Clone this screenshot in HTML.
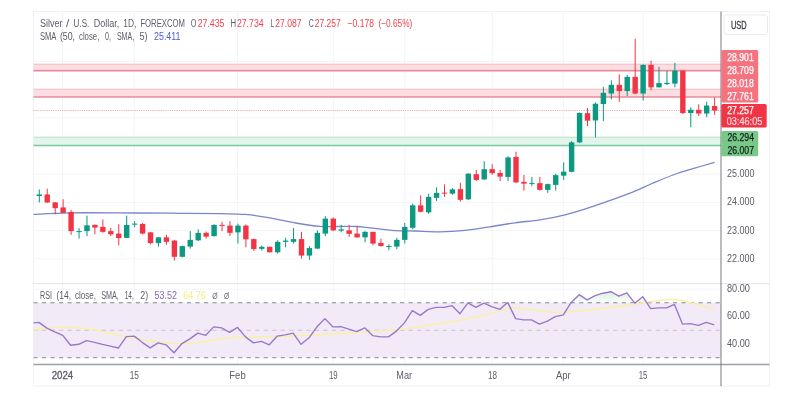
<!DOCTYPE html>
<html><head><meta charset="utf-8"><title>Silver / U.S. Dollar</title>
<style>
html,body{margin:0;padding:0;background:#fff;}
body{width:804px;height:413px;position:relative;overflow:hidden;font-family:"Liberation Sans",sans-serif;}
</style></head><body>
<svg width="804" height="413" viewBox="0 0 804 413" style="position:absolute;left:0;top:0">
<defs><linearGradient id="gg" x1="0" y1="289" x2="0" y2="303" gradientUnits="userSpaceOnUse"><stop offset="0" stop-color="#4caf50" stop-opacity="0.24"/><stop offset="1" stop-color="#4caf50" stop-opacity="0.02"/></linearGradient>
<filter id="bl" x="-5%" y="-5%" width="110%" height="110%"><feGaussianBlur stdDeviation="0.45"/></filter></defs>
<rect x="33.5" y="11.6" width="736.0" height="374.5" fill="#fff" stroke="#eff0f5" stroke-width="1"/>
<g filter="url(#bl)">
<line x1="62.5" y1="11.6" x2="62.5" y2="365" stroke="#f3f4f8" stroke-width="1"/><line x1="134.3" y1="11.6" x2="134.3" y2="365" stroke="#f3f4f8" stroke-width="1"/><line x1="237.5" y1="11.6" x2="237.5" y2="365" stroke="#f3f4f8" stroke-width="1"/><line x1="333.3" y1="11.6" x2="333.3" y2="365" stroke="#f3f4f8" stroke-width="1"/><line x1="404.7" y1="11.6" x2="404.7" y2="365" stroke="#f3f4f8" stroke-width="1"/><line x1="492.3" y1="11.6" x2="492.3" y2="365" stroke="#f3f4f8" stroke-width="1"/><line x1="563.3" y1="11.6" x2="563.3" y2="365" stroke="#f3f4f8" stroke-width="1"/><line x1="643.3" y1="11.6" x2="643.3" y2="365" stroke="#f3f4f8" stroke-width="1"/><line x1="33.5" y1="61.4" x2="721" y2="61.4" stroke="#f3f4f8" stroke-width="1"/><line x1="33.5" y1="89.6" x2="721" y2="89.6" stroke="#f3f4f8" stroke-width="1"/><line x1="33.5" y1="117.8" x2="721" y2="117.8" stroke="#f3f4f8" stroke-width="1"/><line x1="33.5" y1="146.0" x2="721" y2="146.0" stroke="#f3f4f8" stroke-width="1"/><line x1="33.5" y1="174.2" x2="721" y2="174.2" stroke="#f3f4f8" stroke-width="1"/><line x1="33.5" y1="202.4" x2="721" y2="202.4" stroke="#f3f4f8" stroke-width="1"/><line x1="33.5" y1="230.6" x2="721" y2="230.6" stroke="#f3f4f8" stroke-width="1"/><line x1="33.5" y1="258.8" x2="721" y2="258.8" stroke="#f3f4f8" stroke-width="1"/><line x1="33.5" y1="289.2" x2="721" y2="289.2" stroke="#f3f4f8" stroke-width="1"/><line x1="33.5" y1="316.1" x2="721" y2="316.1" stroke="#f3f4f8" stroke-width="1"/><line x1="33.5" y1="343.6" x2="721" y2="343.6" stroke="#f3f4f8" stroke-width="1"/>
<!-- bands -->
<rect x="33.5" y="64.2" width="687.5" height="5.4" fill="#fcdde2"/>
<line x1="33.5" x2="721" y1="64.2" y2="64.2" stroke="#f3bcc4" stroke-width="1"/>
<line x1="33.5" x2="721" y1="70.6" y2="70.6" stroke="#ea8a98" stroke-width="1.7"/>
<rect x="33.5" y="89.2" width="687.5" height="7.6" fill="#fcdde2"/>
<line x1="33.5" x2="721" y1="89.2" y2="89.2" stroke="#f3bcc4" stroke-width="1"/>
<line x1="33.5" x2="721" y1="97" y2="97" stroke="#ea8a98" stroke-width="1.7"/>
<rect x="33.5" y="137.2" width="687.5" height="8.2" fill="#e3f5ea"/>
<line x1="33.5" x2="721" y1="137.2" y2="137.2" stroke="#b5e3c8" stroke-width="1"/>
<line x1="33.5" x2="721" y1="145.5" y2="145.5" stroke="#79cc9d" stroke-width="1.7"/>
<line x1="33.5" x2="721" y1="110.5" y2="110.5" stroke="#d9636f" stroke-width="1" stroke-dasharray="1 1.2" stroke-opacity="0.6"/>
<!-- rsi -->
<rect x="33.5" y="302.8" width="687.5" height="54.8" fill="#f3eaf8"/>
<line x1="33.5" x2="721" y1="302.8" y2="302.8" stroke="#85888f" stroke-width="1.1" stroke-dasharray="4.2 4.327" stroke-dashoffset="0.1"/>
<line x1="33.5" x2="721" y1="330.2" y2="330.2" stroke="#85888f" stroke-opacity="0.4" stroke-width="1.1" stroke-dasharray="4.2 4.327" stroke-dashoffset="0.1"/>
<line x1="33.5" x2="721" y1="357.6" y2="357.6" stroke="#9c9fa6" stroke-width="1.1" stroke-dasharray="4.2 4.327" stroke-dashoffset="0.1"/>
<path d="M507.22,302.80 L507.66,302.42 L507.84,302.80 Z" fill="url(#gg)"/><path d="M570.97,302.80 L571.22,302.42 L579.16,294.69 L587.11,299.93 L595.05,295.69 L603.00,293.19 L610.94,291.70 L618.88,296.18 L626.83,292.94 L634.49,302.80 Z" fill="url(#gg)"/><path d="M635.22,302.80 L642.72,296.68 L646.78,302.80 Z" fill="url(#gg)"/>
<path d="M33.50,329.90 C39.13,329.40 56.22,326.72 67.30,326.90 C78.38,327.08 90.43,329.35 100.00,331.00 C109.57,332.65 112.70,334.70 124.70,336.80 C136.70,338.90 159.53,342.68 172.00,343.60 C184.47,344.52 192.33,342.93 199.50,342.30 C206.67,341.67 208.68,340.63 215.00,339.80 C221.32,338.97 229.10,337.80 237.40,337.30 C245.70,336.80 256.07,337.00 264.80,336.80 C273.53,336.60 281.48,336.43 289.80,336.10 C298.12,335.77 306.40,335.22 314.70,334.80 C323.00,334.38 331.28,334.10 339.60,333.60 C347.92,333.10 356.28,332.30 364.60,331.80 C372.92,331.30 382.77,331.05 389.50,330.60 C396.23,330.15 398.27,330.05 405.00,329.10 C411.73,328.15 421.60,326.23 429.90,324.90 C438.20,323.57 446.48,322.57 454.80,321.10 C463.12,319.63 472.32,317.77 479.80,316.10 C487.28,314.43 494.30,312.47 499.70,311.10 C505.10,309.73 507.22,308.18 512.20,307.90 C517.18,307.62 522.53,308.65 529.60,309.40 C536.67,310.15 546.28,312.20 554.60,312.40 C562.92,312.60 572.77,311.10 579.50,310.60 C586.23,310.10 588.27,310.13 595.00,309.40 C601.73,308.67 611.60,307.37 619.90,306.20 C628.20,305.03 638.15,303.37 644.80,302.40 C651.45,301.43 654.82,300.90 659.80,300.40 C664.78,299.90 669.72,299.07 674.70,299.40 C679.68,299.73 684.70,301.27 689.70,302.40 C694.70,303.53 700.67,305.03 704.70,306.20 C708.73,307.37 712.37,308.87 713.90,309.40" fill="none" stroke="#f8f0a6" stroke-width="1.5" stroke-linejoin="round"/>
<path d="M33.50,322.87 L38.90,322.37 L46.84,328.10 L54.79,331.85 L62.73,335.34 L70.68,345.31 L78.62,344.31 L86.57,340.57 L94.51,342.32 L102.46,344.31 L110.40,346.06 L118.35,348.05 L126.30,336.58 L134.24,336.08 L142.18,342.32 L150.13,347.81 L158.08,342.82 L166.02,344.81 L173.97,352.79 L181.91,343.57 L189.85,338.83 L197.80,333.09 L205.74,335.34 L213.69,326.86 L221.64,327.86 L229.58,332.34 L237.53,327.36 L245.47,336.83 L253.41,342.82 L261.36,341.32 L269.31,344.81 L277.25,336.08 L285.20,334.84 L293.14,333.09 L301.09,344.31 L309.03,337.83 L316.98,326.86 L324.92,318.63 L332.87,326.86 L340.81,326.61 L348.76,329.10 L356.70,331.60 L364.65,327.86 L372.59,335.59 L380.54,336.83 L388.48,336.83 L396.43,331.10 L404.37,322.87 L412.32,310.65 L420.26,315.39 L428.21,309.40 L436.15,307.41 L444.10,307.41 L452.04,305.66 L459.99,313.64 L467.93,302.92 L475.88,307.41 L483.82,303.17 L491.77,306.66 L499.71,309.40 L507.66,302.42 L515.60,318.63 L523.55,319.88 L531.49,319.88 L539.44,324.11 L547.38,321.12 L555.33,316.63 L563.27,314.89 L571.22,302.42 L579.16,294.69 L587.11,299.93 L595.05,295.69 L603.00,293.19 L610.94,291.70 L618.88,296.18 L626.83,292.94 L634.77,303.17 L642.72,296.68 L650.66,308.65 L658.61,307.91 L666.55,307.91 L674.50,304.41 L682.45,324.11 L690.39,323.62 L698.34,325.36 L706.28,322.37 L714.23,324.86" fill="none" stroke="#9878cc" stroke-width="1.4" stroke-linejoin="round"/>
<path d="M33.50,214.40 C39.58,214.13 53.08,213.03 70.00,212.80 C86.92,212.57 116.67,212.92 135.00,213.00 C153.33,213.08 165.83,213.18 180.00,213.30 C194.17,213.42 209.17,213.52 220.00,213.70 C230.83,213.88 236.67,213.70 245.00,214.40 C253.33,215.10 261.67,216.48 270.00,217.90 C278.33,219.32 286.67,221.50 295.00,222.90 C303.33,224.30 311.67,225.72 320.00,226.30 C328.33,226.88 338.83,226.37 345.00,226.40 C351.17,226.43 352.83,226.25 357.00,226.50 C361.17,226.75 363.67,227.22 370.00,227.90 C376.33,228.58 387.50,230.08 395.00,230.60 C402.50,231.12 407.50,230.80 415.00,231.00 C422.50,231.20 431.67,231.92 440.00,231.80 C448.33,231.68 456.67,231.13 465.00,230.30 C473.33,229.47 481.67,228.05 490.00,226.80 C498.33,225.55 506.67,223.97 515.00,222.80 C523.33,221.63 531.67,221.13 540.00,219.80 C548.33,218.47 556.67,216.88 565.00,214.80 C573.33,212.72 578.83,211.05 590.00,207.30 C601.17,203.55 621.67,196.27 632.00,192.30 C642.33,188.33 644.50,186.63 652.00,183.50 C659.50,180.37 668.67,176.42 677.00,173.50 C685.33,170.58 695.75,167.87 702.00,166.00 C708.25,164.13 712.42,162.92 714.50,162.30" fill="none" stroke="#7986cb" stroke-width="1.3" stroke-linejoin="round"/>
<rect x="38.80" y="189.46" width="1" height="12.97" fill="#089981"/><rect x="36.60" y="194.45" width="5.4" height="1.50" fill="#089981"/><rect x="46.74" y="188.72" width="1" height="14.21" fill="#f23645"/><rect x="44.54" y="194.45" width="5.4" height="7.98" fill="#f23645"/><rect x="54.69" y="201.93" width="1" height="12.47" fill="#f23645"/><rect x="52.49" y="202.43" width="5.4" height="5.74" fill="#f23645"/><rect x="62.63" y="199.19" width="1" height="13.72" fill="#f23645"/><rect x="60.43" y="207.42" width="5.4" height="5.49" fill="#f23645"/><rect x="70.58" y="209.91" width="1" height="24.94" fill="#f23645"/><rect x="68.38" y="211.91" width="5.4" height="19.20" fill="#f23645"/><rect x="78.53" y="228.12" width="1" height="10.47" fill="#089981"/><rect x="76.33" y="231.11" width="5.4" height="1.00" fill="#089981"/><rect x="86.47" y="215.65" width="1" height="20.45" fill="#089981"/><rect x="84.27" y="225.37" width="5.4" height="5.74" fill="#089981"/><rect x="94.41" y="224.38" width="1" height="9.98" fill="#f23645"/><rect x="92.21" y="224.88" width="5.4" height="2.74" fill="#f23645"/><rect x="102.36" y="219.39" width="1" height="13.47" fill="#f23645"/><rect x="100.16" y="226.87" width="5.4" height="4.99" fill="#f23645"/><rect x="110.30" y="227.87" width="1" height="8.23" fill="#f23645"/><rect x="108.10" y="231.11" width="5.4" height="3.24" fill="#f23645"/><rect x="118.25" y="224.13" width="1" height="21.20" fill="#f23645"/><rect x="116.05" y="233.60" width="5.4" height="4.49" fill="#f23645"/><rect x="126.20" y="215.65" width="1" height="22.19" fill="#089981"/><rect x="124.00" y="224.88" width="5.4" height="12.97" fill="#089981"/><rect x="134.14" y="221.13" width="1" height="6.23" fill="#089981"/><rect x="131.94" y="223.63" width="5.4" height="1.00" fill="#089981"/><rect x="142.08" y="223.13" width="1" height="11.22" fill="#f23645"/><rect x="139.88" y="223.88" width="5.4" height="9.73" fill="#f23645"/><rect x="150.03" y="231.86" width="1" height="12.47" fill="#f23645"/><rect x="147.83" y="232.36" width="5.4" height="10.72" fill="#f23645"/><rect x="157.98" y="237.34" width="1" height="9.23" fill="#089981"/><rect x="155.78" y="237.34" width="5.4" height="5.74" fill="#089981"/><rect x="165.92" y="234.85" width="1" height="9.98" fill="#f23645"/><rect x="163.72" y="237.34" width="5.4" height="4.49" fill="#f23645"/><rect x="173.87" y="239.84" width="1" height="20.70" fill="#f23645"/><rect x="171.67" y="240.59" width="5.4" height="16.21" fill="#f23645"/><rect x="181.81" y="245.57" width="1" height="11.72" fill="#089981"/><rect x="179.61" y="246.07" width="5.4" height="10.72" fill="#089981"/><rect x="189.75" y="231.11" width="1" height="17.46" fill="#089981"/><rect x="187.56" y="239.84" width="5.4" height="6.73" fill="#089981"/><rect x="197.70" y="229.36" width="1" height="11.72" fill="#089981"/><rect x="195.50" y="232.86" width="5.4" height="7.48" fill="#089981"/><rect x="205.64" y="231.61" width="1" height="6.98" fill="#f23645"/><rect x="203.44" y="232.86" width="5.4" height="3.74" fill="#f23645"/><rect x="213.59" y="224.38" width="1" height="12.22" fill="#089981"/><rect x="211.39" y="224.88" width="5.4" height="11.22" fill="#089981"/><rect x="221.54" y="221.88" width="1" height="9.23" fill="#f23645"/><rect x="219.34" y="224.88" width="5.4" height="1.00" fill="#f23645"/><rect x="229.48" y="221.13" width="1" height="14.96" fill="#f23645"/><rect x="227.28" y="225.62" width="5.4" height="7.23" fill="#f23645"/><rect x="237.43" y="223.63" width="1" height="19.95" fill="#089981"/><rect x="235.23" y="225.62" width="5.4" height="6.73" fill="#089981"/><rect x="245.37" y="224.38" width="1" height="22.94" fill="#f23645"/><rect x="243.17" y="225.62" width="5.4" height="13.72" fill="#f23645"/><rect x="253.31" y="238.59" width="1" height="12.47" fill="#f23645"/><rect x="251.12" y="239.09" width="5.4" height="9.98" fill="#f23645"/><rect x="261.26" y="245.57" width="1" height="4.99" fill="#089981"/><rect x="259.06" y="246.82" width="5.4" height="2.00" fill="#089981"/><rect x="269.20" y="246.82" width="1" height="5.49" fill="#f23645"/><rect x="267.00" y="246.82" width="5.4" height="5.49" fill="#f23645"/><rect x="277.15" y="240.34" width="1" height="13.22" fill="#089981"/><rect x="274.95" y="241.83" width="5.4" height="10.47" fill="#089981"/><rect x="285.10" y="237.84" width="1" height="9.48" fill="#089981"/><rect x="282.90" y="240.59" width="5.4" height="1.25" fill="#089981"/><rect x="293.04" y="228.12" width="1" height="15.46" fill="#089981"/><rect x="290.84" y="239.09" width="5.4" height="2.74" fill="#089981"/><rect x="300.99" y="231.86" width="1" height="26.68" fill="#f23645"/><rect x="298.79" y="239.09" width="5.4" height="16.46" fill="#f23645"/><rect x="308.93" y="246.07" width="1" height="13.72" fill="#089981"/><rect x="306.73" y="248.07" width="5.4" height="7.48" fill="#089981"/><rect x="316.88" y="230.36" width="1" height="18.70" fill="#089981"/><rect x="314.68" y="232.86" width="5.4" height="15.71" fill="#089981"/><rect x="324.82" y="216.15" width="1" height="19.95" fill="#089981"/><rect x="322.62" y="218.64" width="5.4" height="14.96" fill="#089981"/><rect x="332.77" y="217.39" width="1" height="13.72" fill="#f23645"/><rect x="330.57" y="218.64" width="5.4" height="11.72" fill="#f23645"/><rect x="340.71" y="224.88" width="1" height="7.48" fill="#089981"/><rect x="338.51" y="229.36" width="5.4" height="1.25" fill="#089981"/><rect x="348.66" y="224.88" width="1" height="11.97" fill="#f23645"/><rect x="346.46" y="230.36" width="5.4" height="3.49" fill="#f23645"/><rect x="356.60" y="226.12" width="1" height="11.72" fill="#f23645"/><rect x="354.40" y="233.60" width="5.4" height="3.74" fill="#f23645"/><rect x="364.55" y="231.11" width="1" height="11.22" fill="#089981"/><rect x="362.35" y="231.86" width="5.4" height="5.49" fill="#089981"/><rect x="372.49" y="231.86" width="1" height="13.47" fill="#f23645"/><rect x="370.29" y="231.86" width="5.4" height="11.72" fill="#f23645"/><rect x="380.44" y="238.59" width="1" height="7.98" fill="#f23645"/><rect x="378.24" y="242.83" width="5.4" height="3.24" fill="#f23645"/><rect x="388.38" y="244.33" width="1" height="5.99" fill="#089981"/><rect x="386.18" y="246.07" width="5.4" height="1.00" fill="#089981"/><rect x="396.33" y="237.84" width="1" height="11.47" fill="#089981"/><rect x="394.13" y="239.84" width="5.4" height="6.73" fill="#089981"/><rect x="404.27" y="222.88" width="1" height="20.70" fill="#089981"/><rect x="402.07" y="226.87" width="5.4" height="12.97" fill="#089981"/><rect x="412.22" y="203.59" width="1" height="25.69" fill="#089981"/><rect x="410.02" y="205.34" width="5.4" height="22.44" fill="#089981"/><rect x="420.16" y="195.36" width="1" height="16.96" fill="#f23645"/><rect x="417.96" y="205.34" width="5.4" height="6.48" fill="#f23645"/><rect x="428.11" y="193.62" width="1" height="20.45" fill="#089981"/><rect x="425.91" y="196.86" width="5.4" height="15.46" fill="#089981"/><rect x="436.05" y="187.38" width="1" height="13.72" fill="#089981"/><rect x="433.85" y="192.87" width="5.4" height="4.99" fill="#089981"/><rect x="444.00" y="184.39" width="1" height="12.47" fill="#f23645"/><rect x="441.80" y="192.62" width="5.4" height="1.00" fill="#f23645"/><rect x="451.94" y="188.13" width="1" height="6.73" fill="#089981"/><rect x="449.74" y="189.38" width="5.4" height="4.24" fill="#089981"/><rect x="459.89" y="182.89" width="1" height="18.70" fill="#f23645"/><rect x="457.69" y="189.13" width="5.4" height="10.72" fill="#f23645"/><rect x="467.83" y="173.17" width="1" height="26.68" fill="#089981"/><rect x="465.63" y="173.67" width="5.4" height="25.69" fill="#089981"/><rect x="475.78" y="169.93" width="1" height="11.22" fill="#f23645"/><rect x="473.58" y="174.16" width="5.4" height="5.74" fill="#f23645"/><rect x="483.72" y="161.20" width="1" height="18.70" fill="#089981"/><rect x="481.52" y="169.18" width="5.4" height="10.22" fill="#089981"/><rect x="491.67" y="164.19" width="1" height="10.72" fill="#f23645"/><rect x="489.47" y="169.18" width="5.4" height="3.99" fill="#f23645"/><rect x="499.61" y="169.93" width="1" height="11.22" fill="#f23645"/><rect x="497.41" y="172.92" width="5.4" height="3.74" fill="#f23645"/><rect x="507.56" y="156.21" width="1" height="24.94" fill="#089981"/><rect x="505.36" y="157.46" width="5.4" height="19.45" fill="#089981"/><rect x="515.50" y="151.72" width="1" height="31.17" fill="#f23645"/><rect x="513.30" y="156.96" width="5.4" height="25.44" fill="#f23645"/><rect x="523.45" y="174.91" width="1" height="15.71" fill="#f23645"/><rect x="521.25" y="181.90" width="5.4" height="1.75" fill="#f23645"/><rect x="531.39" y="176.91" width="1" height="9.23" fill="#089981"/><rect x="529.19" y="182.89" width="5.4" height="1.00" fill="#089981"/><rect x="539.34" y="176.91" width="1" height="13.72" fill="#f23645"/><rect x="537.13" y="183.14" width="5.4" height="6.73" fill="#f23645"/><rect x="547.28" y="183.64" width="1" height="9.23" fill="#089981"/><rect x="545.08" y="184.14" width="5.4" height="5.74" fill="#089981"/><rect x="555.23" y="173.67" width="1" height="16.96" fill="#089981"/><rect x="553.02" y="175.16" width="5.4" height="9.73" fill="#089981"/><rect x="563.17" y="162.44" width="1" height="17.46" fill="#089981"/><rect x="560.97" y="171.67" width="5.4" height="3.99" fill="#089981"/><rect x="571.12" y="141.12" width="1" height="31.17" fill="#089981"/><rect x="568.91" y="142.37" width="5.4" height="29.43" fill="#089981"/><rect x="579.06" y="112.44" width="1" height="30.42" fill="#089981"/><rect x="576.86" y="112.94" width="5.4" height="29.43" fill="#089981"/><rect x="587.00" y="107.96" width="1" height="18.20" fill="#f23645"/><rect x="584.80" y="113.19" width="5.4" height="7.48" fill="#f23645"/><rect x="594.95" y="102.47" width="1" height="34.91" fill="#089981"/><rect x="592.75" y="103.72" width="5.4" height="16.71" fill="#089981"/><rect x="602.89" y="86.85" width="1" height="34.16" fill="#089981"/><rect x="600.69" y="92.83" width="5.4" height="11.22" fill="#089981"/><rect x="610.84" y="80.36" width="1" height="18.95" fill="#089981"/><rect x="608.64" y="84.85" width="5.4" height="8.73" fill="#089981"/><rect x="618.78" y="74.38" width="1" height="27.43" fill="#f23645"/><rect x="616.58" y="84.85" width="5.4" height="6.23" fill="#f23645"/><rect x="626.73" y="74.88" width="1" height="21.20" fill="#089981"/><rect x="624.53" y="76.87" width="5.4" height="14.21" fill="#089981"/><rect x="634.67" y="38.72" width="1" height="55.61" fill="#f23645"/><rect x="632.47" y="76.87" width="5.4" height="16.71" fill="#f23645"/><rect x="642.62" y="64.40" width="1" height="36.16" fill="#089981"/><rect x="640.42" y="64.90" width="5.4" height="28.68" fill="#089981"/><rect x="650.56" y="60.66" width="1" height="29.68" fill="#f23645"/><rect x="648.36" y="64.90" width="5.4" height="22.44" fill="#f23645"/><rect x="658.51" y="66.90" width="1" height="20.45" fill="#089981"/><rect x="656.31" y="83.10" width="5.4" height="4.24" fill="#089981"/><rect x="666.45" y="70.64" width="1" height="14.21" fill="#089981"/><rect x="664.25" y="82.86" width="5.4" height="1.25" fill="#089981"/><rect x="674.40" y="62.91" width="1" height="24.44" fill="#089981"/><rect x="672.20" y="70.64" width="5.4" height="12.97" fill="#089981"/><rect x="682.35" y="70.64" width="1" height="43.39" fill="#f23645"/><rect x="680.14" y="70.64" width="5.4" height="42.39" fill="#f23645"/><rect x="690.29" y="107.29" width="1" height="19.95" fill="#089981"/><rect x="688.09" y="109.79" width="5.4" height="3.24" fill="#089981"/><rect x="698.24" y="104.30" width="1" height="11.72" fill="#f23645"/><rect x="696.03" y="109.79" width="5.4" height="3.74" fill="#f23645"/><rect x="706.18" y="101.81" width="1" height="15.46" fill="#089981"/><rect x="703.98" y="105.55" width="5.4" height="7.98" fill="#089981"/><rect x="714.12" y="97.32" width="1" height="17.46" fill="#f23645"/><rect x="711.92" y="106.05" width="5.4" height="4.49" fill="#f23645"/>
<!-- separators -->
<line x1="33.5" x2="769.5" y1="283.7" y2="283.7" stroke="#e0e3eb" stroke-width="1"/>
<line x1="33.5" x2="769.5" y1="364.6" y2="364.6" stroke="#9c9fa7" stroke-width="1.5"/>
<line x1="721" x2="721" y1="11.6" y2="386.1" stroke="#70737b" stroke-width="0.95"/>
</g>
</svg>
<svg width="804" height="413" viewBox="0 0 804 413" style="position:absolute;left:0;top:0;font-family:'Liberation Sans',sans-serif">
<g filter="url(#bl2)">
<defs><filter id="bl2" x="-5%" y="-5%" width="110%" height="110%"><feGaussianBlur stdDeviation="0.35"/></filter></defs>
<rect x="724" y="15" width="43.5" height="19.5" rx="3" fill="#fff" stroke="#e9ebf0" stroke-width="1"/>
<rect x="721.3" y="49.9" width="36.9" height="52.6" rx="1.5" fill="#f5727f"/>
<rect x="721.3" y="104.1" width="45.4" height="23.5" rx="1.5" fill="#f23645"/>
<rect x="721.3" y="131" width="36.9" height="25.2" rx="1.5" fill="#78c889"/>
<text x="39.9" y="27.0" textLength="22.5" lengthAdjust="spacingAndGlyphs" fill="#5a5d68" font-size="10.0" font-weight="normal" >Silver</text><text x="66.1" y="27.0" textLength="3.3" lengthAdjust="spacingAndGlyphs" fill="#5a5d68" font-size="10.0" font-weight="normal" >/</text><text x="73.6" y="27.0" textLength="15.7" lengthAdjust="spacingAndGlyphs" fill="#5a5d68" font-size="10.0" font-weight="normal" >U.S.</text><text x="93.7" y="27.0" textLength="25.5" lengthAdjust="spacingAndGlyphs" fill="#5a5d68" font-size="10.0" font-weight="normal" >Dollar,</text><text x="123.3" y="27.0" textLength="13.1" lengthAdjust="spacingAndGlyphs" fill="#5a5d68" font-size="10.0" font-weight="normal" >1D,</text><text x="140.4" y="27.0" textLength="44.5" lengthAdjust="spacingAndGlyphs" fill="#5a5d68" font-size="10.0" font-weight="normal" >FOREXCOM</text><text x="190.8" y="27.0" textLength="5.6" lengthAdjust="spacingAndGlyphs" fill="#5a5d68" font-size="10.0" font-weight="normal" >O</text><text x="197.7" y="27.0" textLength="26.7" lengthAdjust="spacingAndGlyphs" fill="#f0424f" font-size="10.0" font-weight="normal" >27.435</text><text x="230.6" y="27.0" textLength="5.6" lengthAdjust="spacingAndGlyphs" fill="#5a5d68" font-size="10.0" font-weight="normal" >H</text><text x="236.9" y="27.0" textLength="26.7" lengthAdjust="spacingAndGlyphs" fill="#f0424f" font-size="10.0" font-weight="normal" >27.734</text><text x="270.4" y="27.0" textLength="3.8" lengthAdjust="spacingAndGlyphs" fill="#5a5d68" font-size="10.0" font-weight="normal" >L</text><text x="275.2" y="27.0" textLength="26.4" lengthAdjust="spacingAndGlyphs" fill="#f0424f" font-size="10.0" font-weight="normal" >27.087</text><text x="308.8" y="27.0" textLength="5.0" lengthAdjust="spacingAndGlyphs" fill="#5a5d68" font-size="10.0" font-weight="normal" >C</text><text x="314.7" y="27.0" textLength="26.0" lengthAdjust="spacingAndGlyphs" fill="#f0424f" font-size="10.0" font-weight="normal" >27.257</text><text x="347.6" y="27.0" textLength="26.3" lengthAdjust="spacingAndGlyphs" fill="#f0424f" font-size="10.0" font-weight="normal" >−0.178</text><text x="378.4" y="27.0" textLength="33.9" lengthAdjust="spacingAndGlyphs" fill="#f0424f" font-size="10.0" font-weight="normal" >(−0.65%)</text><text x="39.9" y="40.1" textLength="16.5" lengthAdjust="spacingAndGlyphs" fill="#5a5d68" font-size="10.0" font-weight="normal" >SMA</text><text x="59.9" y="40.1" textLength="15.1" lengthAdjust="spacingAndGlyphs" fill="#5a5d68" font-size="10.0" font-weight="normal" >(50,</text><text x="79" y="40.1" textLength="20.3" lengthAdjust="spacingAndGlyphs" fill="#5a5d68" font-size="10.0" font-weight="normal" >close,</text><text x="105.1" y="40.1" textLength="6.0" lengthAdjust="spacingAndGlyphs" fill="#5a5d68" font-size="10.0" font-weight="normal" >0,</text><text x="116.9" y="40.1" textLength="17.3" lengthAdjust="spacingAndGlyphs" fill="#5a5d68" font-size="10.0" font-weight="normal" >SMA,</text><text x="139.5" y="40.1" textLength="8.1" lengthAdjust="spacingAndGlyphs" fill="#5a5d68" font-size="10.0" font-weight="normal" >5)</text><text x="154" y="40.1" textLength="26.5" lengthAdjust="spacingAndGlyphs" fill="#4a5ad4" font-size="10.0" font-weight="normal" >25.411</text><text x="40" y="298.8" textLength="11.9" lengthAdjust="spacingAndGlyphs" fill="#5a5d68" font-size="10.0" font-weight="normal" >RSI</text><text x="56.4" y="298.8" textLength="14.6" lengthAdjust="spacingAndGlyphs" fill="#5a5d68" font-size="10.0" font-weight="normal" >(14,</text><text x="75" y="298.8" textLength="20.9" lengthAdjust="spacingAndGlyphs" fill="#5a5d68" font-size="10.0" font-weight="normal" >close,</text><text x="101.2" y="298.8" textLength="17.6" lengthAdjust="spacingAndGlyphs" fill="#5a5d68" font-size="10.0" font-weight="normal" >SMA,</text><text x="124.7" y="298.8" textLength="9.0" lengthAdjust="spacingAndGlyphs" fill="#5a5d68" font-size="10.0" font-weight="normal" >14,</text><text x="140.3" y="298.8" textLength="7.9" lengthAdjust="spacingAndGlyphs" fill="#5a5d68" font-size="10.0" font-weight="normal" >2)</text><text x="154.6" y="298.8" textLength="22.5" lengthAdjust="spacingAndGlyphs" fill="#8466b8" font-size="10.0" font-weight="normal" >53.52</text><text x="183.3" y="298.8" textLength="22.5" lengthAdjust="spacingAndGlyphs" fill="#f2ef80" font-size="10.0" font-weight="normal" >64.76</text><text x="212.2" y="298.9" textLength="5.4" lengthAdjust="spacingAndGlyphs" fill="#6a6d76" font-size="9.6" font-weight="normal" >Ø</text><text x="224.1" y="298.9" textLength="5.4" lengthAdjust="spacingAndGlyphs" fill="#6a6d76" font-size="9.6" font-weight="normal" >Ø</text><text x="730.9" y="28.9" textLength="15.8" lengthAdjust="spacingAndGlyphs" fill="#3a3c44" font-size="10.8" font-weight="normal" stroke="#3a3c44" stroke-width="0.3">USD</text><text x="726.9" y="177.39999999999998" textLength="27.5" lengthAdjust="spacingAndGlyphs" fill="#5a5d68" font-size="10.6" font-weight="normal" >25.000</text><text x="726.9" y="205.39999999999998" textLength="27.5" lengthAdjust="spacingAndGlyphs" fill="#5a5d68" font-size="10.6" font-weight="normal" >24.000</text><text x="726.9" y="233.79999999999998" textLength="27.5" lengthAdjust="spacingAndGlyphs" fill="#5a5d68" font-size="10.6" font-weight="normal" >23.000</text><text x="726.9" y="262.0" textLength="27.5" lengthAdjust="spacingAndGlyphs" fill="#5a5d68" font-size="10.6" font-weight="normal" >22.000</text><text x="727" y="292.4" textLength="22.8" lengthAdjust="spacingAndGlyphs" fill="#5a5d68" font-size="10.6" font-weight="normal" >80.00</text><text x="727" y="319.3" textLength="22.8" lengthAdjust="spacingAndGlyphs" fill="#5a5d68" font-size="10.6" font-weight="normal" >60.00</text><text x="727" y="346.8" textLength="22.8" lengthAdjust="spacingAndGlyphs" fill="#5a5d68" font-size="10.6" font-weight="normal" >40.00</text><text x="727.2" y="60.5" textLength="26.6" lengthAdjust="spacingAndGlyphs" fill="#fff" font-size="10.2" font-weight="normal" stroke="#fff" stroke-width="0.25">28.901</text><text x="727.2" y="73.7" textLength="26.6" lengthAdjust="spacingAndGlyphs" fill="#fff" font-size="10.2" font-weight="normal" stroke="#fff" stroke-width="0.25">28.709</text><text x="727.2" y="86.9" textLength="26.6" lengthAdjust="spacingAndGlyphs" fill="#fff" font-size="10.2" font-weight="normal" stroke="#fff" stroke-width="0.25">28.018</text><text x="727.2" y="100.10000000000001" textLength="26.6" lengthAdjust="spacingAndGlyphs" fill="#fff" font-size="10.2" font-weight="normal" stroke="#fff" stroke-width="0.25">27.761</text><text x="727.2" y="113.9" textLength="26.6" lengthAdjust="spacingAndGlyphs" fill="#fff" font-size="10.2" font-weight="normal" stroke="#fff" stroke-width="0.25">27.257</text><text x="726.8" y="125.10000000000001" textLength="35.5" lengthAdjust="spacingAndGlyphs" fill="#ffdfe2" font-size="10.2" font-weight="normal" stroke="#ffdfe2" stroke-width="0.15">03:46:05</text><text x="727.4" y="141.39999999999998" textLength="26.6" lengthAdjust="spacingAndGlyphs" fill="#14251a" font-size="10.2" font-weight="normal" stroke="#14251a" stroke-width="0.25">26.294</text><text x="727.4" y="154.39999999999998" textLength="26.6" lengthAdjust="spacingAndGlyphs" fill="#14251a" font-size="10.2" font-weight="normal" stroke="#14251a" stroke-width="0.25">26.007</text><text x="51.75" y="378.9" textLength="21.5" lengthAdjust="spacingAndGlyphs" fill="#5a5d68" font-size="10.6" font-weight="normal" stroke="#5a5d68" stroke-width="0.35">2024</text><text x="129.65" y="378.9" textLength="9.3" lengthAdjust="spacingAndGlyphs" fill="#5a5d68" font-size="10.6" font-weight="normal" >15</text><text x="229.35" y="378.9" textLength="16.3" lengthAdjust="spacingAndGlyphs" fill="#5a5d68" font-size="10.6" font-weight="normal" >Feb</text><text x="328.95" y="378.9" textLength="8.7" lengthAdjust="spacingAndGlyphs" fill="#5a5d68" font-size="10.6" font-weight="normal" >19</text><text x="396.34999999999997" y="378.9" textLength="15.7" lengthAdjust="spacingAndGlyphs" fill="#5a5d68" font-size="10.6" font-weight="normal" >Mar</text><text x="488.0" y="378.9" textLength="9" lengthAdjust="spacingAndGlyphs" fill="#5a5d68" font-size="10.6" font-weight="normal" >18</text><text x="555.9499999999999" y="378.9" textLength="14.7" lengthAdjust="spacingAndGlyphs" fill="#5a5d68" font-size="10.6" font-weight="normal" >Apr</text><text x="638.65" y="378.9" textLength="8.7" lengthAdjust="spacingAndGlyphs" fill="#5a5d68" font-size="10.6" font-weight="normal" >15</text>
</g>
</svg>
</body></html>
